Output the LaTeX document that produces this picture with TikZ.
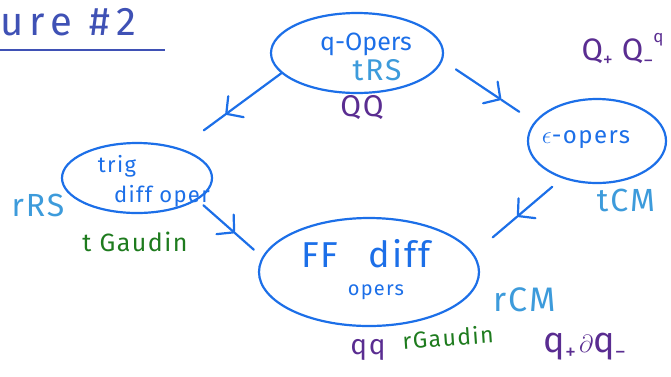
\documentclass[tikz,border=0pt]{standalone}
\usepackage{fontspec}
\setmainfont{Fira Sans}[LetterSpace=6]
\usetikzlibrary{shapes.geometric,arrows.meta}
\definecolor{mblue}{RGB}{28,111,232}
\definecolor{lblue}{RGB}{61,155,219}
\definecolor{mpurple}{RGB}{90,45,145}
\definecolor{mgreen}{RGB}{30,123,30}
\definecolor{mindigo}{RGB}{63,81,181}
\begin{document}
\begin{tikzpicture}[x=1pt,y=-1pt,
  oval/.style={draw=mblue,line width=2.2pt,ellipse,inner sep=0pt},
  seg/.style={draw=mblue,line width=2.2pt,line cap=round},
  headseg/.style={seg,-{Straight Barb[length=12pt,width=26pt,round]}},
  fs/.style={font=\fontsize{#1}{#1}\selectfont},
  bluetxt/.style={text=mblue},
  ltxt/.style={text=lblue},
  ptxt/.style={text=mpurple},
  gtxt/.style={text=mgreen}]
\useasboundingbox (0,0) rectangle (671,376);
% title
\node[anchor=west,inner sep=0pt,text=mindigo,fs=40] (title) at (0,22) {\addfontfeatures{LetterSpace=16}ure \#2};
\draw[mindigo,line width=2pt] (0,50) coordinate (ul1) -- (165,50) coordinate (ul2);
% ellipses
\node[oval,minimum width=172pt,minimum height=80pt] (q) at (357,53) {};
\node[oval,minimum width=138pt,minimum height=84pt] (e) at (597,141) {};
\node[oval,minimum width=150pt,minimum height=70pt] (t) at (137,178) {};
\node[oval,minimum width=220pt,minimum height=108pt] (f) at (369,272) {};
% texts
\node[bluetxt,fs=25] (qtxt) at (366,44) {\addfontfeatures{LetterSpace=0}q-Opers};
\node[ltxt,fs=30] (trs) at (377,70) {tRS};
\node[ptxt,fs=30] (QQ) at (362,108) {QQ};
\node[ptxt,fs=31,anchor=base west] (Qpm) at (578,60) {Q\raisebox{-6pt}{\fontsize{20}{20}\selectfont +}\hspace{9pt}Q\raisebox{-7pt}{\fontsize{20}{20}\selectfont −}\raisebox{18pt}{\fontsize{17}{17}\selectfont q}};
\node[bluetxt,fs=24] (etxt) at (586,140) {$\epsilon$-opers};
\node[ltxt,fs=32] (tcm) at (626,200) {tCM};
\node[bluetxt,fs=22] (trig) at (117,166) {trig};
\node[bluetxt,fs=22] (doper) at (162,196) {diff oper};
\node[ltxt,fs=32] (rrs) at (38,205) {rRS};
\node[gtxt,fs=25] (tg) at (135,242) {t Gaudin};
\node[bluetxt,fs=36] (ff) at (366,254) {FF\hspace{30pt}diff};
\node[bluetxt,fs=20] (opers) at (376,292) {opers};
\node[ltxt,fs=34] (rcm) at (525,300) {rCM};
\node[ptxt,fs=28] (qq) at (368,350) {qq};
\node[gtxt,fs=23,rotate=4] (rg) at (448,337) {rGaudin};
\node[ptxt,fs=36,anchor=base west] (qdq) at (540,352) {q\raisebox{-7pt}{\fontsize{22}{22}\selectfont +}\hspace{3pt}$\partial$q\raisebox{-7pt}{\fontsize{22}{22}\selectfont −}};
% connectors (arrowhead at the middle)
\path (q.195) -- (t.35) coordinate[pos=0.55] (m1);
\draw[headseg] (q.195) -- (m1);
\draw[seg,shorten >=30pt] (m1) -- (t.35);
\path (q.355) -- (e.163) coordinate[pos=0.64] (m2);
\draw[headseg,shorten <=16pt] (q.355) -- (m2);
\draw[seg,shorten >=18pt] (m2) -- (e.163);
\path (t.340) -- (f.172) coordinate[pos=0.58] (m3);
\draw[headseg,shorten <=8pt] (t.340) -- (m3);
\draw[seg,shorten >=11pt] (m3) -- (f.172);
\path (e.227) -- (f.10) coordinate[pos=0.51] (m4);
\draw[headseg,shorten <=13pt] (e.227) -- (m4);
\draw[seg,shorten >=25pt] (m4) -- (f.10);
\end{tikzpicture}
\end{document}
